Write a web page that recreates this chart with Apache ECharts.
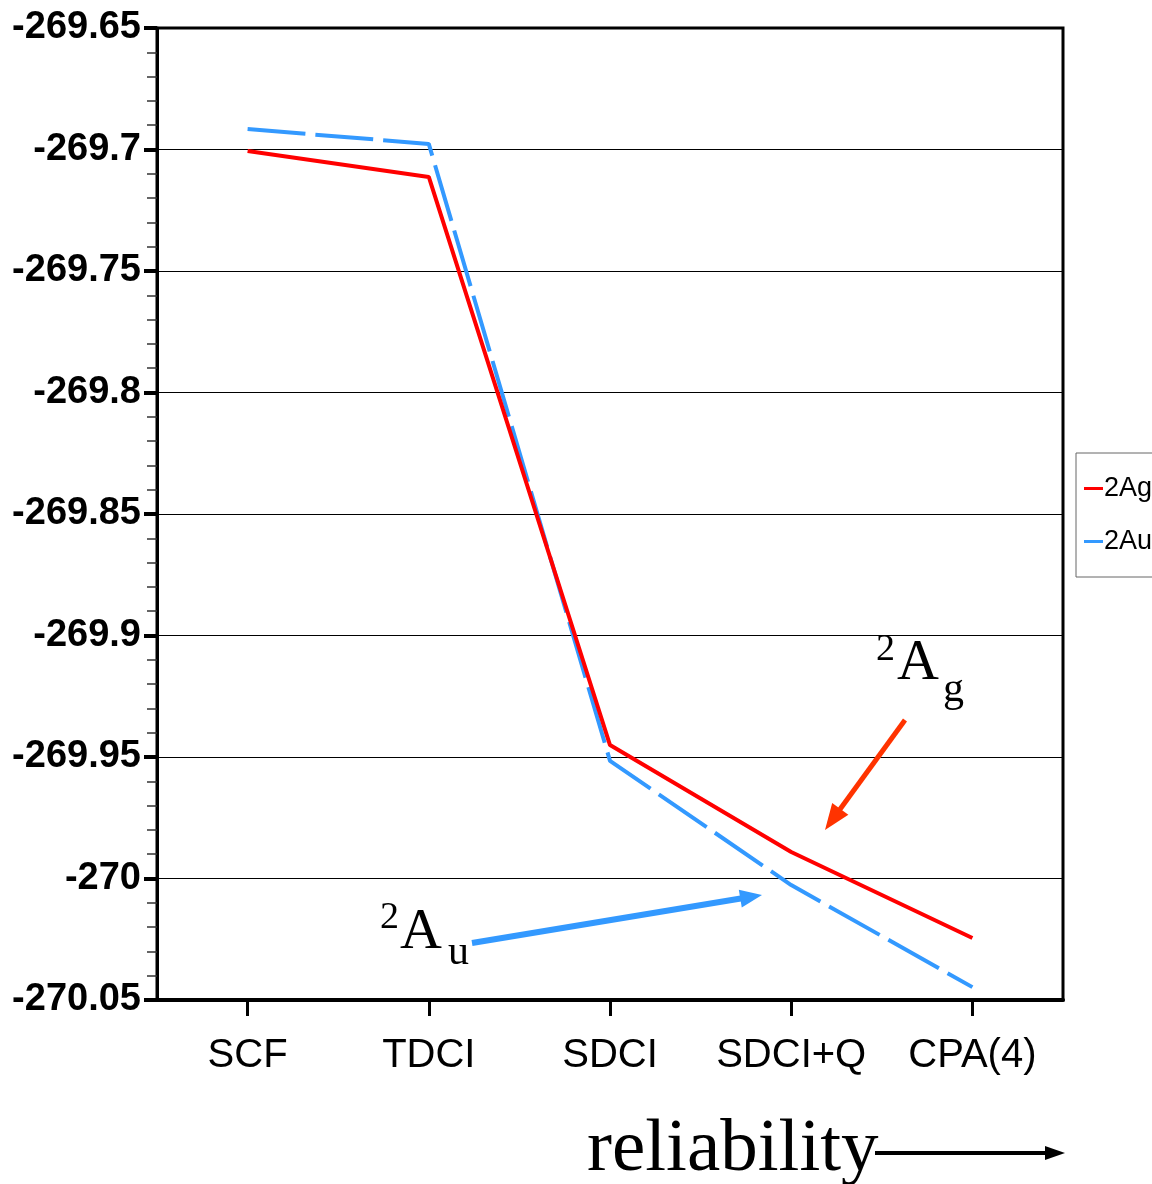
<!DOCTYPE html>
<html>
<head>
<meta charset="utf-8">
<script src="https://cdn.jsdelivr.net/npm/echarts@6/dist/echarts.min.js"></script>
<style>html,body{margin:0;padding:0;background:#fff;}#c{width:1152px;height:1184px;}</style>
</head>
<body>
<div id="c"></div>
<script>
const categories = ['SCF', 'TDCI', 'SDCI', 'SDCI+Q', 'CPA(4)'];
const seriesNames = ['2Ag', '2Au'];
const ag = [-269.7006, -269.7113, -269.9451, -269.9891, -270.0245];
const au = [-269.6916, -269.6977, -269.9516, -270.0027, -270.0447];
const yMin = -270.05, yMax = -269.65, yStep = 0.05;

function arrow(x1, y1, x2, y2, color, w, hl, hw) {
  const dx = x2 - x1, dy = y2 - y1, L = Math.hypot(dx, dy);
  const ux = dx / L, uy = dy / L, px = -uy, py = ux;
  const bx = x2 - ux * hl, by = y2 - uy * hl;
  return [
    { type: 'line', shape: { x1: x1, y1: y1, x2: bx + ux * 2, y2: by + uy * 2 }, style: { stroke: color, lineWidth: w }, z: 100 },
    { type: 'polygon', shape: { points: [[x2, y2], [bx + px * hw / 2, by + py * hw / 2], [bx - px * hw / 2, by - py * hw / 2]] }, style: { fill: color }, z: 100 }
  ];
}
function txt(x, y, s, size) {
  return { type: 'text', x: x, y: y, z: 100, style: { text: s, fontFamily: 'Liberation Serif', fontSize: size, fill: '#000', verticalAlign: 'middle', align: 'left' } };
}

const chart = echarts.init(document.getElementById('c'));
chart.setOption({
  animation: false,
  backgroundColor: '#fff',
  grid: { left: 157, right: 89, top: 28, bottom: 184, show: true, borderColor: '#000', borderWidth: 3, backgroundColor: 'transparent' },
  legend: {
    orient: 'vertical', left: 1076, top: 453,
    data: seriesNames,
    icon: 'rect', itemWidth: 19, itemHeight: 3, itemGap: 26,
    padding: [22, 60, 22, 8],
    borderColor: '#666', borderWidth: 1,
    textStyle: { fontFamily: 'Liberation Sans Narrow, Liberation Sans', fontSize: 27, lineHeight: 26, color: '#000', padding: [0, 0, 0, -4] }
  },
  xAxis: {
    type: 'category', data: categories, boundaryGap: true,
    axisLine: { show: true, lineStyle: { color: '#000', width: 4 } },
    axisTick: { show: true, alignWithLabel: true, interval: 0, length: 16, lineStyle: { color: '#000', width: 3 } },
    axisLabel: { interval: 0, hideOverlap: false, fontFamily: 'Liberation Sans', fontSize: 40, color: '#000', margin: 36 },
    splitLine: { show: false }
  },
  yAxis: {
    type: 'value', min: yMin, max: yMax, interval: yStep,
    axisLine: { show: true, lineStyle: { color: '#000', width: 3 } },
    axisTick: { show: true, length: 13, lineStyle: { color: '#000', width: 4 } },
    minorTick: { show: true, splitNumber: 5, length: 10, lineStyle: { color: '#333', width: 1.5 } },
    axisLabel: { fontFamily: 'Liberation Sans', fontWeight: 'bold', fontSize: 38, color: '#000', margin: 16,
      formatter: v => String(parseFloat(v.toFixed(2))) },
    splitLine: { show: true, lineStyle: { color: '#000', width: 1 } }
  },
  series: [
    { name: seriesNames[0], type: 'line', data: ag, symbol: 'none', color: '#ff0000', lineStyle: { color: '#ff0000', width: 4 }, z: 3 },
    { name: seriesNames[1], type: 'line', data: au, symbol: 'none', color: '#3399ff', lineStyle: { color: '#3399ff', width: 4, type: [58, 10] }, z: 2 }
  ],
  graphic: [].concat(
    arrow(905, 720, 825, 830, '#ff3300', 5, 26, 20),
    arrow(472, 943, 762, 895, '#3399ff', 6, 22, 18),
    arrow(875, 1153, 1065, 1153, '#000', 4, 20, 14),
    [
      txt(876, 650, '2', 38),
      txt(897, 664, 'A', 58),
      txt(943, 690, 'g', 42),
      txt(380, 918, '2', 38),
      txt(400, 933, 'A', 58),
      txt(448, 953, 'u', 42),
      txt(587, 1150, 'reliability', 75)
    ]
  )
});
</script>
</body>
</html>
